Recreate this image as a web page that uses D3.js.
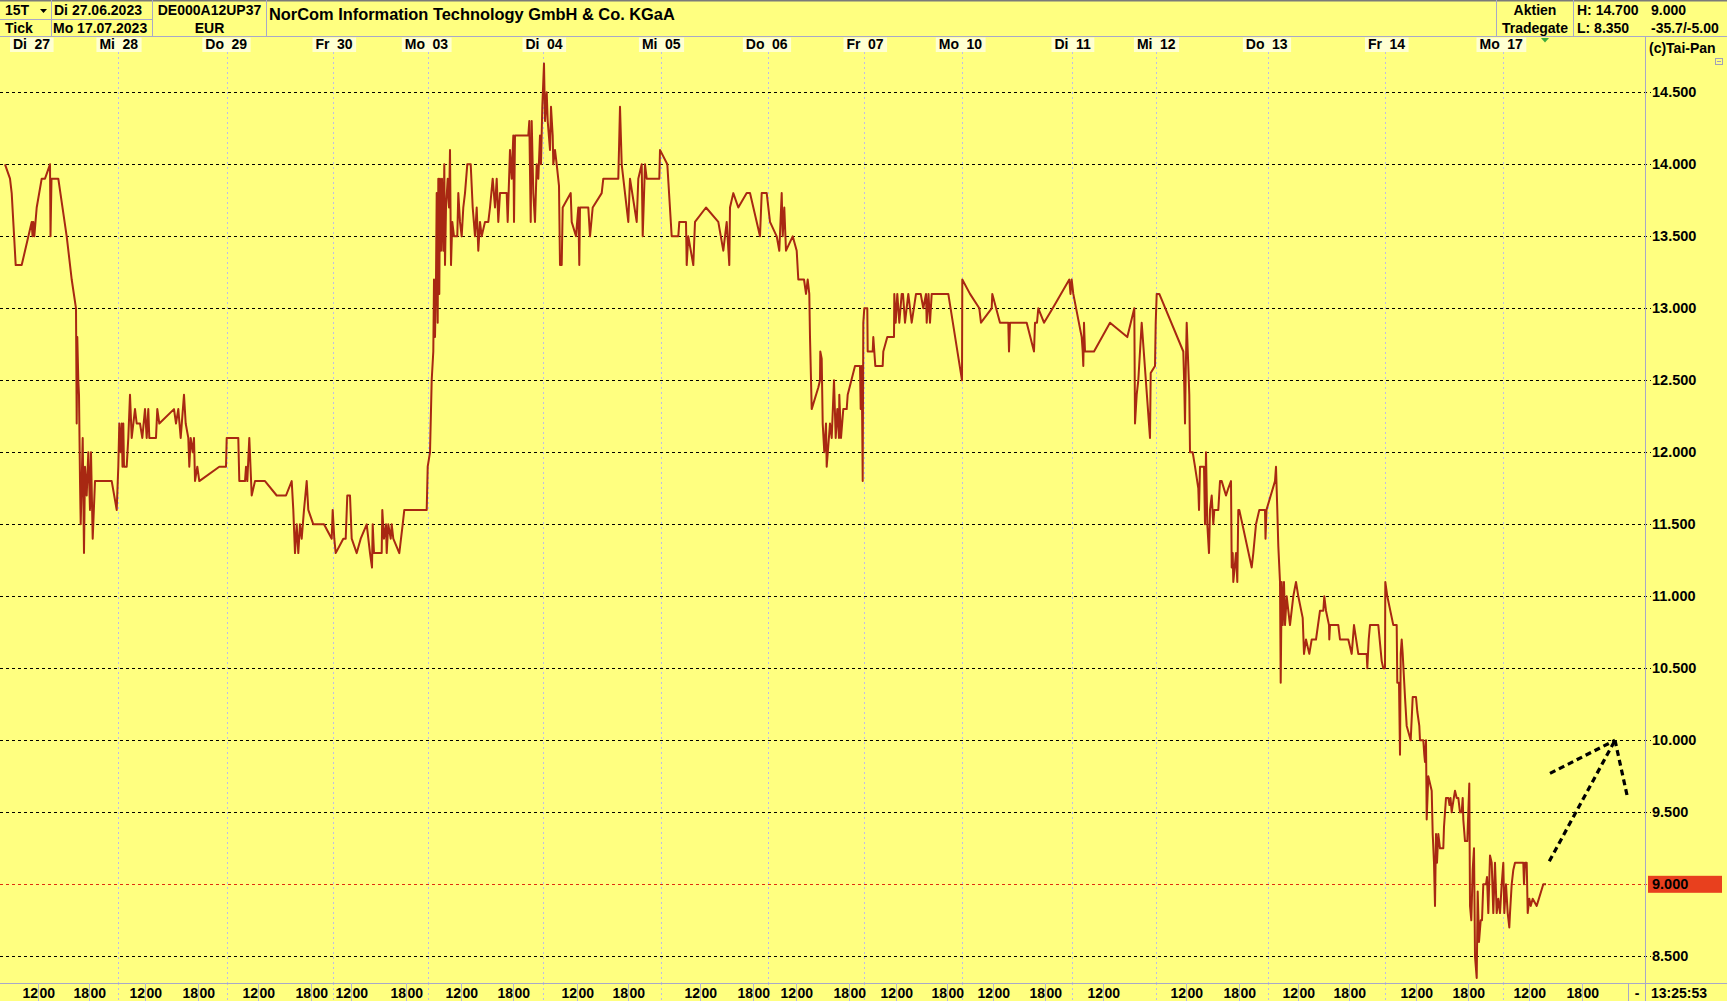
<!DOCTYPE html>
<html><head><meta charset="utf-8">
<script src="https://cdn.jsdelivr.net/npm/d3@7"></script>
<style>
html,body{margin:0;padding:0;background:#FFFF80;overflow:hidden;}
svg{display:block;font-family:"Liberation Sans",Arial,sans-serif;font-weight:bold;}
</style></head><body>
<svg id="chart" width="1727" height="1001"></svg>
<script>
// ---------------- DATA ----------------
const chartTitle = "NorCom Information Technology GmbH & Co. KGaA";
const headerLeft = [["15T", "Tick"], ["Di 27.06.2023", "Mo 17.07.2023"], ["DE000A12UP37", "EUR"]];
const headerRight = [["Aktien", "Tradegate"], ["H: 14.700", "L: 8.350"], ["9.000", "-35.7/-5.00"]];
const copyrightText = "(c)Tai-Pan";
const lastTime = "13:25:53";
const lastPrice = 9.0;

// tick-axis (15T bars): day names and the tick index at which each day starts
const dayNames = ["Di 27","Mi 28","Do 29","Fr 30","Mo 03","Di 04","Mi 05","Do 06","Fr 07","Mo 10","Di 11","Mi 12","Do 13","Fr 14","Mo 17"];
const dayStartTicks = [0,113,222,327.5,423,537.5,655.5,762.5,858.5,957,1066.5,1150.5,1262.5,1380,1497.7];
const tickDomain = [0, 1640];

// hour marks on the bottom axis
const hourTickPositions = [32.7,83.8,140.4,193,253,306,346,401,455.6,508,572,623,695,748,791,844,891,941.8,987.7,1040,1098.3,1181,1233.8,1293,1344.4,1410.7,1463,1524,1576.6];
const hourTickLabels = ["12","18","12","18","12","18","12","18","12","18","12","18","12","18","12","18","12","18","12","18","12","12","18","12","18","12","18","12","18"];

// price axis
const priceTickValues = [8.5,9.0,9.5,10.0,10.5,11.0,11.5,12.0,12.5,13.0,13.5,14.0,14.5];
const priceTickLabels = ["8.500","9.000","9.500","10.000","10.500","11.000","11.500","12.000","12.500","13.000","13.500","14.000","14.500"];
const priceDomain = [8.5, 14.5];

// price series: [tick index, price]
const priceSeries = [
[0,14.0],[5,13.9],[6.7,13.8],[8.3,13.6],[10.7,13.3],[16.7,13.3],[26.7,13.6],[27.5,13.5],[28.3,13.6],[29.3,13.5],[31.7,13.7],[36.7,13.9],[40,13.9],[45,14.0],[45.5,13.5],[46.5,13.9],[53.3,13.9],[61.7,13.5],[66.7,13.2],[71,13.0],[71.7,12.2],[72.3,12.8],[73.3,12.5],[74,12.4],[75,11.8],[75.7,11.5],[77.7,12.1],[79,11.3],[80,11.9],[81.7,11.7],[83.3,12.0],[85,11.6],[86,12.0],[87.7,11.4],[90,11.8],[106.7,11.8],[111.7,11.6],[113.3,11.9],[114.3,12.2],[115.7,12.0],[116.7,12.2],[117.5,11.9],[118.3,12.2],[119,11.9],[121.7,11.9],[123.3,12.1],[125,12.4],[126.7,12.1],[130,12.3],[131.7,12.2],[135,12.2],[137.3,12.1],[140,12.3],[141.7,12.1],[143.3,12.3],[144.3,12.1],[151,12.1],[152.3,12.3],[154.3,12.2],[169,12.3],[171,12.2],[173.3,12.3],[175.7,12.1],[179,12.4],[180.7,12.2],[183.3,12.1],[184.3,11.9],[185.7,12.1],[187.7,12.0],[189,12.1],[190,11.8],[192.3,11.9],[194.3,11.8],[214.3,11.9],[221,11.9],[221.7,12.1],[233.3,12.1],[234.3,11.8],[240,11.8],[241,11.9],[242.3,11.8],[244.3,12.1],[246.7,11.7],[250,11.8],[260,11.8],[271.7,11.7],[281,11.7],[286.7,11.8],[288.3,11.6],[290,11.3],[291.7,11.5],[293.3,11.3],[295,11.5],[296.7,11.4],[299,11.6],[301.7,11.8],[303.3,11.6],[308.3,11.5],[319,11.5],[326.7,11.4],[327.7,11.6],[329.3,11.4],[330.7,11.3],[338.3,11.4],[340.7,11.4],[342.3,11.7],[345,11.7],[346.7,11.4],[351.7,11.3],[355.7,11.4],[361.7,11.5],[365,11.3],[367,11.2],[367.7,11.5],[369,11.3],[376.7,11.3],[377.3,11.6],[379,11.4],[381,11.5],[381.7,11.3],[383.3,11.5],[385.7,11.4],[386.7,11.5],[388.3,11.4],[394.3,11.3],[397.7,11.5],[399.3,11.6],[421.7,11.6],[422.7,11.9],[425,12.0],
[426.7,12.5],[428.3,12.7],[429,13.2],[430,12.8],[431,13.2],[431.7,13.8],[432.7,12.9],[433.3,13.9],[434.3,13.1],[435,13.9],[436,13.4],[437,13.9],[438.3,13.4],[439.3,14.0],[440,13.3],[441,13.7],[442.7,13.9],[444,13.7],[445,14.1],[446,13.3],[447.3,13.6],[449,13.5],[452.3,13.5],[453.3,13.8],[455,13.6],[456.7,13.5],[458.3,13.7],[460,13.8],[462.3,14.0],[465.7,14.0],[467.7,13.7],[470,13.5],[471.7,13.7],[473.3,13.4],[475,13.6],[476.7,13.5],[480,13.6],[483.3,13.6],[485,13.7],[487.7,13.9],[490,13.7],[491.7,13.9],[493.3,13.6],[495,13.8],[501.7,13.8],[502.7,13.6],[505,14.1],[506.7,13.9],[508.3,14.2],[509,13.6],[510,14.2],[523.3,14.2],[524.3,14.3],[525.7,13.6],[526.7,14.3],[528.3,13.8],[530,13.6],[531.7,14.0],[533.3,13.9],[535,14.2],[536,14.0],[537.3,14.4],[539,14.7],[540,14.3],[541.7,14.5],[542.7,14.3],[545,14.1],[546,14.4],[547.7,14.2],[548.3,14.0],[550,14.1],[551.7,14.0],[554,13.85],[555,13.3],[556.7,13.3],[557.7,13.7],[565.7,13.8],[566.7,13.6],[571,13.5],[573.3,13.7],[574.3,13.3],[575,13.7],[583.3,13.7],[585,13.5],[587.7,13.7],[596.7,13.8],[598.3,13.9],[613.3,13.9],[615,14.4],[616.7,14.0],[623.3,13.6],[625,13.9],[631.7,13.6],[633.3,13.9],[636.7,14.0],[637.7,13.5],[640,14.0],[641.7,13.9],[654.3,13.9],[655,14.1],[662.3,14.0],[666.7,13.5],[673.3,13.5],[674.3,13.6],[681,13.6],[681.7,13.3],[683.3,13.5],[688.3,13.3],[690,13.6],[701,13.7],[713.3,13.6],[718.3,13.4],[721.7,13.6],[724.3,13.3],[725,13.7],[728.3,13.8],[733.3,13.7],[741.7,13.8],[745,13.8],[755,13.5],[756.7,13.8],[761.7,13.8],[765,13.6],[771.7,13.5],[774.3,13.4],[776.7,13.8],[777.7,13.5],[779.3,13.7],[781,13.4],[787.7,13.5],[791.7,13.4],[793.3,13.2],[799,13.2],[801,13.1],[802.7,13.2],[804.3,13.1],[805,12.8],[806.7,12.3],
[813.3,12.45],[815,12.5],[815.3,12.7],[816.7,12.65],[817.7,12.2],[819.3,12.0],[821,12.2],[821.7,11.9],[825,12.2],[826.7,12.1],[829,12.5],[830.7,12.1],[832.3,12.3],[834,12.1],[834.3,12.4],[836,12.1],[838.3,12.3],[841.7,12.3],[842.7,12.4],[850,12.6],[855,12.6],[855.7,12.3],[856.7,12.6],[857.7,11.8],[858.3,12.9],[859.3,13.0],[862.3,13.0],[862.7,12.7],[867.7,12.7],[868.3,12.8],[870.3,12.6],[877.7,12.6],[878.3,12.7],[882.3,12.8],[889,12.8],[889.3,13.1],[890.7,12.9],[892.3,13.1],[894.3,12.9],[896.7,13.1],[898,13.1],[900,12.9],[903.3,13.1],[906.7,12.9],[911,13.1],[915.7,13.1],[918.3,13.0],[921,13.1],[921.7,12.9],[923.5,13.1],[925,12.9],[926.7,13.1],[943.3,13.1],[957,12.5],[957.3,13.2],[965,13.1],[974.3,13.0],[976,12.9],[986.7,13.0],[987.3,13.1],[995,12.9],[1003.3,12.9],[1004,12.7],[1005,12.9],[1021.7,12.9],[1029,12.7],[1030,12.9],[1032,12.9],[1033.3,13.0],[1039,12.9],[1047.7,13.0],[1064.3,13.2],[1065.5,13.1],[1066.7,13.2],[1068.3,13.1],[1076.7,12.8],[1077.7,12.7],[1078.3,12.6],[1079,12.9],[1080,12.7],[1089,12.7],[1105,12.9],[1122.3,12.8],[1129.3,13.0],[1130,12.2],[1131.7,12.4],[1133.3,12.5],[1136.7,12.9],[1145,12.1],[1145.7,12.55],[1150,12.6],[1150.7,12.9],[1151.7,13.1],
[1154.3,13.1],[1178.3,12.7],[1179.3,12.45],[1180,12.2],[1180.7,12.55],[1181.7,12.9],[1183.3,12.6],[1184.3,12.4],[1185,12.0],[1187.7,12.0],[1190,11.9],[1193.3,11.75],[1194,11.6],[1195,11.9],[1199,11.9],[1200,11.5],[1201,12.0],[1202.3,11.5],[1204,11.3],[1205,11.6],[1206.7,11.7],[1208.3,11.5],[1209.3,11.6],[1213.3,11.6],[1215,11.8],[1216.7,11.8],[1221,11.7],[1223.3,11.75],[1226,11.8],[1226.7,11.2],[1227.7,11.3],[1228.3,11.1],[1231,11.3],[1232.3,11.1],[1233.3,11.6],[1234.3,11.6],[1246.7,11.2],[1248.3,11.3],[1251,11.5],[1254.3,11.6],[1260,11.6],[1260.5,11.4],[1261.5,11.6],[1270,11.8],[1271,11.9],[1272.3,11.6],[1273.3,11.35],[1275,11.1],[1275.7,10.4],[1276.7,11.1],[1277.7,10.8],[1279,11.1],[1280,10.8],[1281.7,11.0],[1283.3,10.9],[1285,10.8],[1288.3,11.0],[1291,11.1],[1293.3,11.0],[1297.7,10.85],[1299,10.6],[1301,10.7],[1304.3,10.6],[1306.7,10.7],[1311,10.7],[1315,10.9],[1318.3,10.9],[1319.3,11.0],[1321,10.9],[1324,10.8],[1324.3,10.7],[1325,10.8],[1333.3,10.8],[1335,10.7],[1343.3,10.7],[1346.7,10.6],[1349,10.8],[1353.3,10.6],[1361.7,10.6],[1362.3,10.5],[1363.7,10.7],[1365,10.8],[1373.3,10.8],[1376.7,10.55],[1378.3,10.5],[1380,10.5],[1380.3,11.1],
[1382.3,11.0],[1388.3,10.8],[1391.7,10.8],[1392.3,10.4],[1394,10.4],[1395,9.9],[1395.7,10.6],[1396.7,10.7],[1397.7,10.6],[1400,10.3],[1401.7,10.1],[1405.7,10.0],[1407.7,10.3],[1411,10.3],[1412.3,10.2],[1414.3,10.1],[1415,10.0],[1418.3,10.0],[1419.3,9.9],[1420,9.85],[1421,10.0],[1421.7,9.45],[1423.3,9.75],[1425,9.7],[1426.7,9.65],[1427.7,9.35],[1429,9.15],[1430,8.85],[1431,9.35],[1432,9.15],[1433.3,9.35],[1435,9.25],[1438.3,9.25],[1439,9.4],[1441,9.6],[1443.3,9.6],[1444.5,9.55],[1445.5,9.6],[1446.7,9.5],[1447.7,9.55],[1450,9.65],[1451.7,9.6],[1453.3,9.6],[1455,9.5],[1456.7,9.5],[1457.7,9.6],[1458.3,9.45],[1460,9.3],[1462.3,9.3],[1464.3,9.7],[1465,8.85],[1466.3,8.75],[1467.7,9.1],[1469,9.25],[1470,8.5],[1471.7,8.35],[1472.7,8.95],[1474,8.6],[1475.7,8.75],[1477,8.75],[1478.3,9.0],[1481,9.0],[1482,9.05],[1483.3,8.8],[1485,9.2],[1486.7,9.15],[1488.3,8.8],[1490,9.15],[1491.7,8.8],[1493.3,8.9],[1495,8.8],[1496.7,9.0],[1498.3,9.15],[1499.3,8.8],[1501,9.0],[1502.7,8.8],[1504.3,8.7],[1505,8.8],[1506.7,9.0],[1508.3,9.1],[1510,9.15],[1511.7,9.15],[1514.3,9.15],[1518.3,9.15],[1519,9.0],[1520,9.15],[1521.7,9.15],[1522.7,8.8],[1524.3,8.9],[1525.7,8.85],[1527.7,8.9],[1531.7,8.85],[1538.3,9.0],[1541,9.0]
];

// hand-drawn forecast arrows: [tick, price] pairs
const arrowSegments = [
  [[1544.3, 9.16], [1610, 10.0]],
  [[1545, 9.77], [1610, 10.0]],
  [[1610, 10.0], [1622.3, 9.61]]
];

// ---------------- LAYOUT ----------------
const W = 1727, H = 1001;
const headerH = 36.5, rowMid = 19.5;
const plotLeft = 5, plotRight = 1645, axisX = 1645.5;
const bottomAxisY = 983;
const C = {bg:"#FFFF80", grid:"#000", sep:"#BDBDE6", frame:"#A8A8C8", line:"#A82812", cream:"#FFFFD2", red:"#E8401E"};

const svg = d3.select("#chart");
svg.append("rect").attr("width", W).attr("height", H).attr("fill", C.bg);

const x = d3.scaleLinear().domain(tickDomain).range([plotLeft, plotRight]);
const y = d3.scaleLinear().domain(priceDomain).range([956.3, 92.3]);

// ---- day separators ----
dayStartTicks.forEach((t, i) => {
  if (i === 0) return;
  const xx = Math.round(x(t)) + 0.5;
  svg.append("line").attr("x1", xx).attr("x2", xx).attr("y1", 52).attr("y2", H)
    .attr("stroke", C.sep).attr("stroke-width", 1).attr("stroke-dasharray", "2,3");
});

// ---- grid (price) ----
const gGrid = svg.append("g");
priceTickValues.forEach((v, i) => {
  const yy = Math.round(y(v)) + 0.5;
  gGrid.append("line").attr("x1", 0).attr("x2", 1651).attr("y1", yy).attr("y2", yy)
    .attr("stroke", v === lastPrice ? "#E03010" : C.grid).attr("stroke-width", 1)
    .attr("stroke-dasharray", "3,3");
});

// ---- price line ----
const line = d3.line().x(d => x(d[0])).y(d => y(d[1]));
svg.append("path").datum(priceSeries).attr("d", line).attr("fill", "none")
  .attr("stroke", C.line).attr("stroke-width", 2).attr("stroke-linejoin", "round");

// ---- arrows ----
arrowSegments.forEach(seg => {
  svg.append("line").attr("x1", x(seg[0][0])).attr("y1", y(seg[0][1]))
    .attr("x2", x(seg[1][0])).attr("y2", y(seg[1][1]))
    .attr("stroke", "#000").attr("stroke-width", 3.2).attr("stroke-dasharray", "6,4");
});

// ---- right axis ----
svg.append("line").attr("x1", axisX).attr("x2", axisX).attr("y1", 0).attr("y2", H)
  .attr("stroke", C.frame).attr("stroke-width", 1);
priceTickValues.forEach((v, i) => {
  const yy = y(v);
  if (v === lastPrice) {
    svg.append("rect").attr("x", 1648).attr("y", yy - 8.5).attr("width", 74).attr("height", 17).attr("fill", C.red);
  }
  svg.append("text").attr("x", 1652).attr("y", yy + 5).attr("font-size", 14.5).attr("fill", "#000")
    .text(priceTickLabels[i]);
});

// ---- header ----
svg.append("rect").attr("x", 0).attr("y", 0).attr("width", W).attr("height", headerH).attr("fill", C.bg);
svg.append("line").attr("x1", 0).attr("x2", W).attr("y1", 0.75).attr("y2", 0.75).attr("stroke", "#7A7A7A").attr("stroke-width", 1.5);
svg.append("line").attr("x1", 0).attr("x2", W).attr("y1", headerH).attr("y2", headerH).attr("stroke", C.frame).attr("stroke-width", 1);
svg.append("line").attr("x1", 0).attr("x2", 152.5).attr("y1", rowMid).attr("y2", rowMid).attr("stroke", C.frame);
[51.5, 152.5, 266.5, 1496.5, 1573.5].forEach(xx => {
  svg.append("line").attr("x1", xx).attr("x2", xx).attr("y1", 0).attr("y2", headerH).attr("stroke", C.frame);
});
const hText = (t, xx, yy, anchor, size) => svg.append("text").attr("x", xx).attr("y", yy)
  .attr("text-anchor", anchor || "start").attr("font-size", size || 14).attr("fill", "#000").text(t);
hText(headerLeft[0][0], 5, 15);
svg.append("path").attr("d", "M40,9 L47,9 L43.5,13 Z").attr("fill", "#000");
hText(headerLeft[0][1], 5, 33);
hText(headerLeft[1][0], 54, 15);
hText(headerLeft[1][1], 53, 33);
hText(headerLeft[2][0], 209.5, 15, "middle");
hText(headerLeft[2][1], 209.5, 33, "middle");
hText(chartTitle, 269, 20, "start", 16.4);
hText(headerRight[0][0], 1535, 15, "middle");
hText(headerRight[0][1], 1535, 33, "middle");
hText(headerRight[1][0], 1577, 15);
hText(headerRight[1][1], 1577, 33);
hText(headerRight[2][0], 1651, 15);
hText(headerRight[2][1], 1651, 33);

// ---- day labels ----
dayNames.forEach((nm, i) => {
  const xx = Math.max(x(dayStartTicks[i]), 30);
  const parts = nm.split(" ");
  const g = svg.append("g");
  const r = g.append("rect").attr("y", 37.5).attr("height", 14.5).attr("fill", C.cream);
  const t1 = g.append("text").attr("x", xx - 3).attr("y", 48.5).attr("text-anchor", "end").attr("font-size", 14).text(parts[0]);
  const t2 = g.append("text").attr("x", xx + 4.5).attr("y", 48.5).attr("font-size", 14).text(parts[1]);
  const w1 = t1.node().getComputedTextLength(), w2 = t2.node().getComputedTextLength();
  r.attr("x", xx - 3 - w1 - 3).attr("width", w1 + w2 + 14);
});
svg.append("path").attr("d", "M1541,38 L1549,38 L1545,42.5 Z").attr("fill", "#3DAA3D");
hText(copyrightText, 1649, 53);
svg.append("rect").attr("x", 1715.5).attr("y", 58.5).attr("width", 7).attr("height", 6).attr("fill", "none").attr("stroke", "#A0A0B8");
svg.append("line").attr("x1", 1717).attr("x2", 1721).attr("y1", 61.5).attr("y2", 61.5).attr("stroke", "#A0A0B8");

// ---- bottom axis ----
svg.append("rect").attr("x", 0).attr("y", bottomAxisY).attr("width", W).attr("height", H - bottomAxisY).attr("fill", C.bg);
dayStartTicks.forEach((t, i) => {
  if (i === 0) return;
  const xx = Math.round(x(t)) + 0.5;
  svg.append("line").attr("x1", xx).attr("x2", xx).attr("y1", bottomAxisY).attr("y2", H)
    .attr("stroke", C.sep).attr("stroke-dasharray", "2,3");
});
svg.append("line").attr("x1", 0).attr("x2", W).attr("y1", bottomAxisY + 0.5).attr("y2", bottomAxisY + 0.5)
  .attr("stroke", C.frame).attr("stroke-width", 1.2);
hourTickPositions.forEach((t, i) => {
  const xx = Math.round(x(t)) + 0.5;
  svg.append("line").attr("x1", xx).attr("x2", xx).attr("y1", bottomAxisY).attr("y2", H).attr("stroke", "#B8B8D0");
  svg.append("text").attr("x", xx - 0.5).attr("y", 998).attr("text-anchor", "end").attr("font-size", 14).text(hourTickLabels[i]);
  svg.append("text").attr("x", xx + 1).attr("y", 998).attr("font-size", 14).text("00");
});
svg.append("line").attr("x1", 1628.5).attr("x2", 1628.5).attr("y1", bottomAxisY).attr("y2", H).attr("stroke", C.frame);
svg.append("line").attr("x1", axisX).attr("x2", axisX).attr("y1", bottomAxisY).attr("y2", H).attr("stroke", C.frame);
hText("-", 1637, 998, "middle");
hText(lastTime, 1651, 998);
</script>
</body></html>
